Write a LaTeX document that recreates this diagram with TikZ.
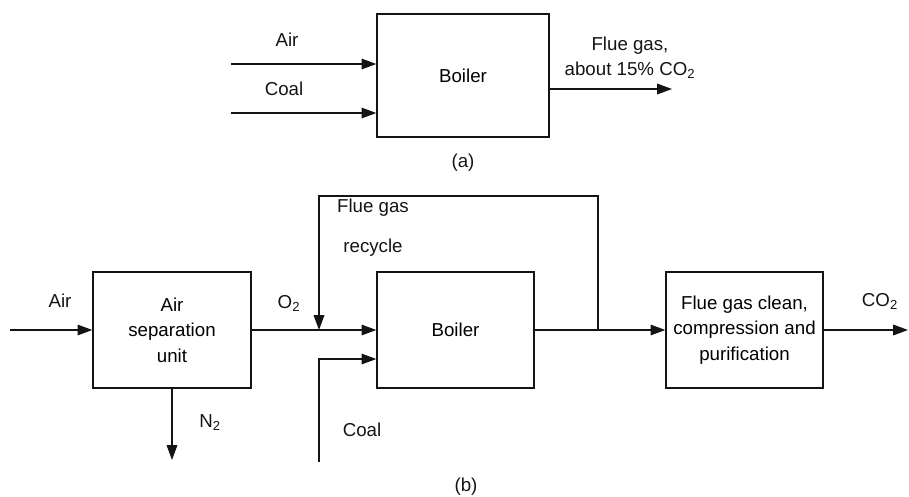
\documentclass[tikz,border=0pt]{standalone}
\usepackage{fontspec}
\setmainfont{Liberation Sans}
\usepackage{tikz}
\usetikzlibrary{positioning,arrows.meta,calc}
\definecolor{ink}{RGB}{20,20,20}

\begin{document}
\begin{tikzpicture}[x=0.025cm, y=-0.025cm, font=\fontsize{13.3}{18}\selectfont,
  unit/.style={draw=ink, line width=0.9pt, minimum width=3.925cm, minimum height=2.9cm, align=center, inner sep=2pt},
  flow/.style={-{Triangle[length=10.5pt,width=7.5pt]}, line width=0.9pt, draw=ink},
  tag/.style={text=ink, align=center, inner sep=1pt}]
  \useasboundingbox (0,0) rectangle (909,496);
  % (a) conventional air firing
  \node[unit, minimum width=4.3cm, minimum height=3.075cm] (boilerA) at (463,75.5) {Boiler};
  \coordinate (airA) at (231,64);
  \coordinate (coalA) at (231,113);
  \coordinate (flueOut) at (672,89);
  \draw[flow] (airA) -- (airA -| boilerA.west);
  \draw[flow] (coalA) -- (coalA -| boilerA.west);
  \draw[flow] (flueOut -| boilerA.east) -- (flueOut);
  \node[tag] (airlabelA) at (287,40) {Air};
  \node[tag] (coallabelA) at (284,89) {Coal};
  \node[tag] (fluelabelA) at (630,58) {Flue gas,\\about 15\% CO\textsubscript{2}};
  \node[tag] (captionA) at (463,163) {(a)};
  % (b) oxy-fuel firing with recycle
  \node[unit, minimum width=3.95cm] (asu) at (172,330) {Air\\separation\\unit};
  \node[unit] (boilerB) at (455.5,330) {Boiler};
  \node[unit] (clean) at (744.5,330) {Flue gas clean,\\compression and\\purification};
  \coordinate (airB) at (10,330);
  \coordinate (n2out) at (172,460);
  \coordinate (mix) at (319,330);
  \coordinate (split) at (598,330);
  \coordinate (coalB) at (319,462);
  \coordinate (co2Out) at (908,330);
  \draw[flow] (airB) -- (asu.west);
  \draw[flow] (asu.south) -- (n2out);
  \draw[flow] (asu.east) -- (boilerB.west);
  \draw[flow] (boilerB.east) -- (clean.west);
  \draw[flow] (split) -- (split |- 0,196) -| (mix);
  \draw[flow] (coalB) |- ([yshift=-0.725cm]boilerB.west);
  \draw[flow] (clean.east) -- (co2Out);
  \node[tag] (airlabelB) at (60,301) {Air};
  \node[tag] (o2label) at (289,303) {O\textsubscript{2}};
  \node[tag] (n2label) at (210,423) {N\textsubscript{2}};
  \node[tag] (coallabelB) at (362,430) {Coal};
  \node[tag] (recyclelabel) at (373,208) {Flue gas};
  \node[tag] (recyclelabel2) at (373,248) {recycle};
  \node[tag] (co2label) at (880,301) {CO\textsubscript{2}};
  \node[tag] (captionB) at (466,487) {(b)};
\end{tikzpicture}
\end{document}
